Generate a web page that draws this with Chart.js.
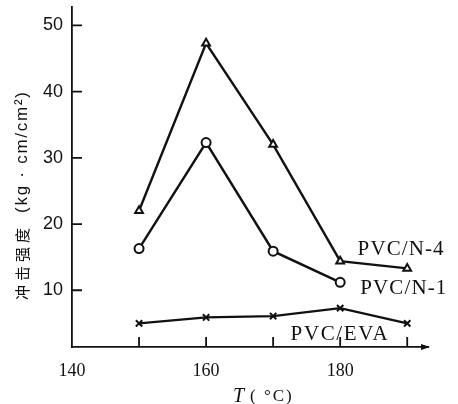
<!DOCTYPE html>
<html>
<head>
<meta charset="utf-8">
<script src="https://cdn.jsdelivr.net/npm/chart.js@4"></script>
<style>
	html, body { margin: 0; padding: 0; background: #fff; }
	#wrap { width: 458px; height: 404px; }
</style>
</head>
<body>
<div id="wrap"><canvas id="chart" width="458" height="404"></canvas></div>
<script>
// impact strength vs processing temperature
const temps = [150, 160, 170, 180, 190]
const n4 = [22.0, 47.3, 32.0, 14.4, 13.3]
const n1 = [16.3, 32.3, 15.9, 11.2]
const eva = [5.0, 5.9, 6.1, 7.3, 5.0]
const seriesNames = ["PVC/N-4", "PVC/N-1", "PVC/EVA"]
const yTicks = [10, 20, 30, 40, 50]
const xTickMarks = [150, 160, 170, 180, 190]
const xTickLabels = [140, 160, 180]

const toPoints = (vals) => vals.map((v, i) => ({ x: temps[i], y: v }))

// spread text so it fills a given length
function spreadText(ctx, text, x, y, len) {
	ctx.letterSpacing = "0px"
	const w = ctx.measureText(text).width
	const n = [...text].length
	ctx.letterSpacing = Math.max(0, (len - w) / (n - 1)) + "px"
	ctx.fillText(text, x, y)
	ctx.letterSpacing = "0px"
}

const decor = {
	id: "decor",
	afterDraw(chart, args, opts) {
		const ctx = chart.ctx
		const xs = chart.scales.x
		const ys = chart.scales.y
		const a = chart.chartArea
		ctx.save()
		ctx.strokeStyle = "#111"
		ctx.fillStyle = "#111"
		ctx.lineWidth = 1.8
		// inward ticks
		ctx.beginPath()
		for (const v of yTicks) {
			const y = ys.getPixelForValue(v)
			ctx.moveTo(a.left, y)
			ctx.lineTo(a.left + 10, y)
		}
		for (const v of xTickMarks) {
			const x = xs.getPixelForValue(v)
			ctx.moveTo(x, a.bottom)
			ctx.lineTo(x, a.bottom - 10)
		}
		ctx.stroke()
		// arrow at end of x axis
		ctx.beginPath()
		ctx.moveTo(a.right + 2, a.bottom)
		ctx.lineTo(a.right - 7, a.bottom - 3)
		ctx.lineTo(a.right - 7, a.bottom + 3)
		ctx.closePath()
		ctx.fill()
		// series names
		ctx.font = "21px 'Liberation Serif'"
		ctx.textBaseline = "middle"
		ctx.textAlign = "left"
		for (const l of opts.labels) {
			spreadText(ctx, l.text, xs.getPixelForValue(l.x), ys.getPixelForValue(l.y), l.len)
		}
		// x title
		const tx = 233, ty = 397
		ctx.font = "italic 20px 'Liberation Serif'"
		ctx.fillText("T", tx, ty)
		ctx.font = "17px 'Liberation Serif'"
		ctx.letterSpacing = "2px"
		ctx.fillText("( °C)", tx + 17, ty)
		ctx.letterSpacing = "0px"
		// y title
		ctx.translate(22, 300)
		ctx.rotate(-Math.PI / 2)
		ctx.textAlign = "left"
		ctx.font = "15px 'Noto Sans CJK SC'"
		spreadText(ctx, "冲击强度", 0, 0, 72)
		ctx.font = "17px 'Liberation Sans'"
		spreadText(ctx, "(kg · cm/cm²)", 87, 0, 121)
		ctx.restore()
	},
}

const lineSet = (label, vals, style) => ({
	label: label,
	data: toPoints(vals),
	borderColor: "#111",
	backgroundColor: "#fff",
	borderWidth: 2.4,
	pointStyle: style,
	pointRadius: 4.5,
	pointBorderWidth: 2,
	pointBorderColor: "#111",
	pointBackgroundColor: "#fff",
	tension: 0,
	clip: false,
})

new Chart(document.getElementById("chart"), {
	type: "line",
	data: {
		datasets: [
			lineSet(seriesNames[0], n4, "triangle"),
			lineSet(seriesNames[1], n1, "circle"),
			lineSet(seriesNames[2], eva, "crossRot"),
		],
	},
	options: {
		responsive: false,
		animation: false,
		layout: { padding: { left: 0, top: 5, right: 30, bottom: 0 } },
		plugins: {
			legend: { display: false },
			tooltip: { enabled: false },
			decor: {
				labels: [
					{ text: seriesNames[0], x: 182.6, y: 16.2, len: 86 },
					{ text: seriesNames[1], x: 183.0, y: 10.2, len: 86 },
					{ text: seriesNames[2], x: 172.6, y: 3.3, len: 97 },
				],
			},
		},
		scales: {
			x: {
				type: "linear",
				min: 140,
				max: 193.1,
				afterFit: (s) => { s.height = 57; s.paddingRight = 0 },
				afterBuildTicks: (s) => { s.ticks = xTickLabels.map((v) => ({ value: v })) },
				grid: { display: false },
				border: { color: "#111", width: 1.8 },
				ticks: { color: "#111", padding: 5, font: { family: "Liberation Serif", size: 18 } },
			},
			y: {
				min: 1.43,
				max: 52.86,
				afterFit: (s) => { s.width = 72; s.paddingTop = 0; s.paddingBottom = 0 },
				afterBuildTicks: (s) => { s.ticks = yTicks.map((v) => ({ value: v })) },
				grid: { display: false },
				border: { color: "#111", width: 1.8 },
				ticks: { color: "#111", padding: 1, font: { family: "Liberation Sans", size: 18 } },
			},
		},
	},
	plugins: [decor],
})
</script>
</body>
</html>
